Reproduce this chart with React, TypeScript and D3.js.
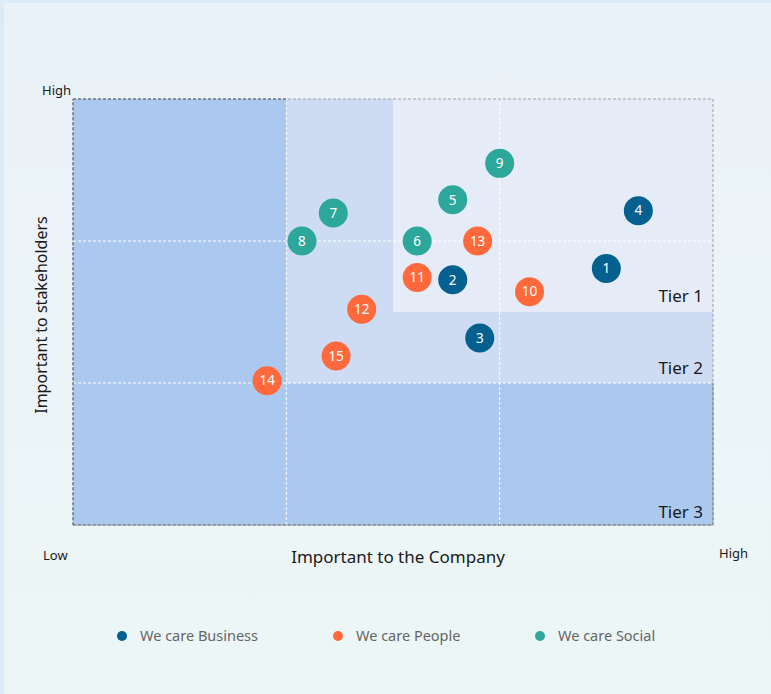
import React from "react";
import * as d3 from "d3";

const W = 771;
const H = 694;

const ids = [1, 2, 3, 4, 5, 6, 7, 8, 9, 10, 11, 12, 13, 14, 15];
const xValues = [7.5, 5.34, 5.72, 7.95, 5.34, 4.84, 3.66, 3.22, 6.0, 6.42, 4.84, 4.06, 5.69, 2.73, 3.7];
const yValues = [5.42, 5.18, 3.95, 6.64, 6.87, 6.0, 6.59, 6.0, 7.64, 4.93, 5.23, 4.56, 6.0, 3.05, 3.57];
const groups = ["Business", "Business", "Business", "Business", "Social", "Social", "Social", "Social", "Social", "People", "People", "People", "People", "People", "People"];

const categories = ["Business", "People", "Social"];
const categoryLabels = ["We care Business", "We care People", "We care Social"];
const categoryColors = ["#03608f", "#ff693c", "#2ca79a"];

const tierNames = ["Tier 3", "Tier 2", "Tier 1"];
const tierMinX = [0, 3, 4.5];
const tierMinY = [0, 3, 4.5];
const tierColors = ["#abc8ee", "#cddcf3", "#e5ecf7"];

const gridTicks = [3, 6];

const FONT = "'Noto Sans', 'DejaVu Sans', sans-serif";

export default function App() {
  const left = 73, right = 713, top = 99, bottom = 525;
  const x = d3.scaleLinear().domain([0, 9]).range([left, right]);
  const y = d3.scaleLinear().domain([0, 9]).range([bottom, top]);
  const color = d3.scaleOrdinal<string, string>().domain(categories).range(categoryColors);

  const tierLabelY = [y(0) - 7, y(3) - 9, y(4.5) - 10];

  return (
    <div style={{ position: "absolute", left: 0, top: 0 }}>
      <svg width={W} height={H} style={{ display: "block" }}>
        <defs>
          <linearGradient id="bg" x1="0" y1="0" x2="0" y2="1">
            <stop offset="0" stopColor="#eaf2f9" />
            <stop offset="1" stopColor="#edf6f6" />
          </linearGradient>
        </defs>
        <rect x={0} y={0} width={W} height={H} fill="#dcebf5" />
        <rect x={4} y={3} width={W - 4} height={H - 3} fill="url(#bg)" />

        {tierNames.map((t, i) => (
          <rect
            key={t}
            x={x(tierMinX[i])}
            y={y(9)}
            width={x(9) - x(tierMinX[i])}
            height={y(tierMinY[i]) - y(9)}
            fill={tierColors[i]}
          />
        ))}

        {gridTicks.map((v) => (
          <line key={"gx" + v} x1={x(v)} x2={x(v)} y1={y(0)} y2={y(9)} stroke="#ffffff" strokeDasharray="3,2" strokeWidth={1} />
        ))}
        {gridTicks.map((v) => (
          <line key={"gy" + v} x1={x(0)} x2={x(9)} y1={y(v)} y2={y(v)} stroke="#ffffff" strokeDasharray="3,2" strokeWidth={1} />
        ))}

        <rect x={x(0)} y={y(9)} width={x(9) - x(0)} height={y(0) - y(9)} fill="none" stroke="#9aa0a6" strokeDasharray="3,2" strokeWidth={1} />
        <line x1={x(0)} x2={x(0)} y1={y(0)} y2={y(9)} stroke="#5a5f66" strokeDasharray="3,2" />
        <line x1={x(0)} x2={x(9)} y1={y(0)} y2={y(0)} stroke="#5a5f66" strokeDasharray="3,2" />
        <line x1={x(0)} x2={x(3)} y1={y(9)} y2={y(9)} stroke="#5a5f66" strokeDasharray="3,2" />
        <line x1={x(9)} x2={x(9)} y1={y(0)} y2={y(3)} stroke="#6a6f76" strokeDasharray="3,2" />

        {tierNames.map((t, i) => (
          <text key={"tl" + t} x={x(9) - 10} y={tierLabelY[i]} textAnchor="end" fontFamily={FONT} fontSize={17} fill="#1a1a1a">
            {t}
          </text>
        ))}

        {ids.map((id, i) => (
          <g key={id}>
            <circle cx={x(xValues[i])} cy={y(yValues[i])} r={14.5} fill={color(groups[i])} />
            <text x={x(xValues[i])} y={y(yValues[i])} dy="0.35em" textAnchor="middle" fontFamily={FONT} fontSize={13.5} fill="#ffffff">
              {id}
            </text>
          </g>
        ))}

        <text x={42} y={95} fontFamily={FONT} fontSize={13} fill="#1a1a1a">High</text>
        <text x={43} y={560} fontFamily={FONT} fontSize={13} fill="#1a1a1a">Low</text>
        <text x={719} y={558} fontFamily={FONT} fontSize={13} fill="#1a1a1a">High</text>
        <text x={(x(0) + x(9)) / 2 + 5} y={563} textAnchor="middle" fontFamily={FONT} fontSize={17} fill="#1a1a1a">
          Important to the Company
        </text>
        <text
          transform={`translate(47,${(y(0) + y(9)) / 2 + 3}) rotate(-90)`}
          textAnchor="middle"
          fontFamily={FONT}
          fontSize={16}
          fill="#1a1a1a"
        >
          Important to stakeholders
        </text>

        {categories.map((c, i) => {
          const lx = [122, 338, 540][i];
          return (
            <g key={"lg" + c}>
              <circle cx={lx} cy={636} r={5} fill={categoryColors[i]} />
              <text x={lx + 18} y={636} dy="0.35em" fontFamily={FONT} fontSize={14.5} fill="#666666">
                {categoryLabels[i]}
              </text>
            </g>
          );
        })}
      </svg>
    </div>
  );
}
